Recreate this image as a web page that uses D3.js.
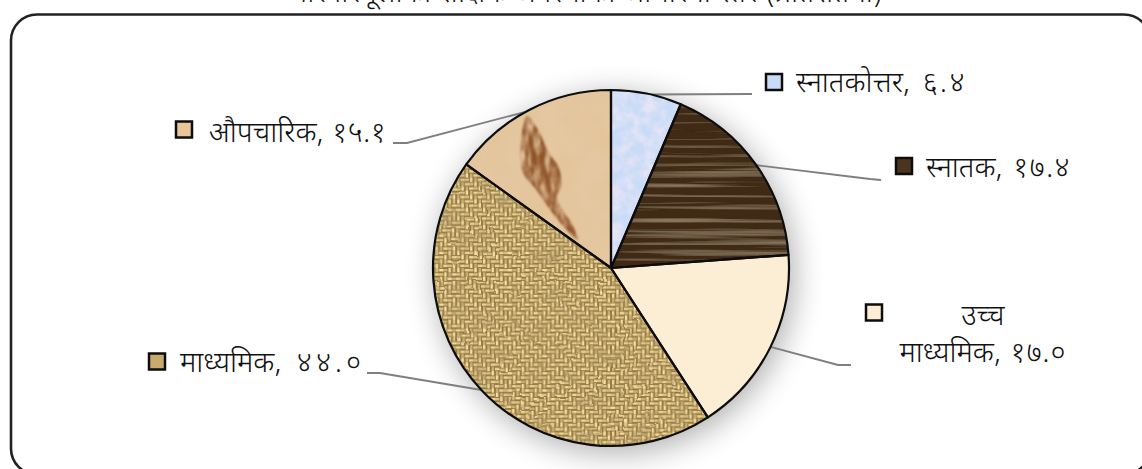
<!DOCTYPE html>
<html><head><meta charset="utf-8">
<style>html,body{margin:0;padding:0;background:#fff;overflow:hidden}
text{font-family:"Noto Sans Devanagari","Lohit Devanagari","Noto Serif Devanagari","Noto Sans","DejaVu Sans",sans-serif;fill:#111;font-weight:300}</style>
<script src="https://cdnjs.cloudflare.com/ajax/libs/d3/7.8.5/d3.min.js"></script></head><body>
<script>
const categories=["स्नातकोत्तर","स्नातक","उच्च माध्यमिक","माध्यमिक","औपचारिक"];
const values=[6.4,17.4,17.0,44.0,15.1];
const valueLabels=["६.४","१७.४","१७.०","४४.०","१५.१"];
const titleText="परिवारमूलीको शैक्षिक अवस्थाको आधारमा स्तर (प्रतिशतमा)";
const W=1142,H=469,cx=611,cy=268,R=178;
const svg=d3.select("body").append("svg").attr("width",W).attr("height",H).style("display","block");
const defs=svg.append("defs");

function tex(id,freq,seed,octaves,matrix){
  const f=defs.append("filter").attr("id",id).attr("x","0").attr("y","0").attr("width","1").attr("height","1");
  f.append("feTurbulence").attr("type","fractalNoise").attr("baseFrequency",freq).attr("numOctaves",octaves).attr("seed",seed).attr("result","n");
  f.append("feColorMatrix").attr("in","n").attr("type","matrix").attr("values",matrix).attr("result","c");
  f.append("feComposite").attr("in","c").attr("in2","SourceAlpha").attr("operator","in").attr("result","t");
  const m=f.append("feMerge");m.append("feMergeNode").attr("in","SourceGraphic");m.append("feMergeNode").attr("in","t");
}
tex("tBlue","0.09",4,3,"0 0 0 0 .85  0 0 0 0 .80  0 0 0 0 .92  1.7 0 0 0 -.6");
tex("tWood","0.004 0.2",7,3,"0 0 0 0 .44  0 0 0 0 .33  0 0 0 0 .20  1.8 0 0 0 -.95");
tex("tCream","0.02",2,2,"0 0 0 0 .93  0 0 0 0 .86  0 0 0 0 .72  .4 0 0 0 -.17");
tex("tSand","0.03",9,3,"0 0 0 0 .80  0 0 0 0 .64  0 0 0 0 .46  .7 0 0 0 -.25");

// woven burlap tile
const cell=4.3,n=12;
const pat=defs.append("pattern").attr("id","weave").attr("patternUnits","userSpaceOnUse").attr("width",cell*n*2).attr("height",cell*n);
pat.append("rect").attr("width",cell*n*2).attr("height",cell*n).attr("fill","#8f743e");
d3.range(n*2).forEach(i=>d3.range(n).forEach(j=>{
  const k=i<n?i:2*n-1-i, horiz=((k+j)%4)<2;
  const shade=["#f3dfa6","#dcc284","#ecd698","#ccb072"][(i*3+j*5)%4];
  pat.append("rect").attr("x",i*cell+(horiz?0:.9)).attr("y",j*cell+(horiz?.9:0))
    .attr("width",horiz?cell:cell-1.8).attr("height",horiz?cell-1.8:cell).attr("fill",shade);
}));
const fw=defs.append("filter").attr("id","tWeave").attr("x","0").attr("y","0").attr("width","1").attr("height","1");
fw.append("feTurbulence").attr("type","fractalNoise").attr("baseFrequency","0.035").attr("numOctaves",2).attr("seed",5).attr("result","w");
fw.append("feDisplacementMap").attr("in","SourceGraphic").attr("in2","w").attr("scale",3).attr("result","dg");
fw.append("feGaussianBlur").attr("in","dg").attr("stdDeviation",.5).attr("result","b");
fw.append("feTurbulence").attr("type","fractalNoise").attr("baseFrequency","0.05").attr("numOctaves",3).attr("seed",11).attr("result","n");
fw.append("feColorMatrix").attr("in","n").attr("type","matrix").attr("values","0 0 0 0 .42  0 0 0 0 .30  0 0 0 0 .12  1.5 0 0 0 -.72").attr("result","c");
const mw=fw.append("feMerge").attr("result","all");mw.append("feMergeNode").attr("in","b");mw.append("feMergeNode").attr("in","c");
fw.append("feComposite").attr("in","all").attr("in2","SourceAlpha").attr("operator","in");

defs.append("filter").attr("id","blur14").attr("x","-30%").attr("y","-30%").attr("width","160%").attr("height","160%")
  .append("feGaussianBlur").attr("stdDeviation",15);
const fishF=defs.append("filter").attr("id","fishBlur").attr("x","-30%").attr("y","-30%").attr("width","160%").attr("height","160%");
fishF.append("feTurbulence").attr("type","fractalNoise").attr("baseFrequency","0.2 0.06").attr("numOctaves",3).attr("seed",3).attr("result","n");
fishF.append("feColorMatrix").attr("in","n").attr("type","matrix").attr("values","0 0 0 0 0  0 0 0 0 0  0 0 0 0 0  2.0 0 0 0 -.3").attr("result","holes");
fishF.append("feComposite").attr("in","SourceGraphic").attr("in2","holes").attr("operator","in").attr("result","streak");
fishF.append("feGaussianBlur").attr("in","streak").attr("stdDeviation",1.2);

const fills=["#c9dcf7","#3f2916","#fbeed4","url(#weave)","#e4c59b"];
const filters=["url(#tBlue)","url(#tWood)","url(#tCream)","url(#tWeave)","url(#tSand)"];
const swatch=["#c9dcf7","#4a3420","#fdeed3","#c8aa6c","#e8c69a"];

// frame
svg.append("rect").attr("x",11).attr("y",14.5).attr("width",1139).attr("height",460).attr("rx",26)
  .attr("fill","#fff").attr("stroke","#222").attr("stroke-width",2.6);
// the title is cut by the top edge in the reference too
svg.append("text").attr("x",587).attr("y",2).attr("text-anchor","middle").attr("font-size",29.5).text(titleText);

const pie=d3.pie().sort(null).value(d=>d)(values);
const arc=d3.arc().innerRadius(0).outerRadius(R);
const g=svg.append("g").attr("transform",`translate(${cx},${cy})`);
g.append("path").attr("d",d3.arc().innerRadius(0).outerRadius(R+2).startAngle(0).endAngle(2*Math.PI)())
  .attr("transform","translate(4,6)").attr("fill","#000").attr("opacity",.3).attr("filter","url(#blur14)");

const elbows=[[141,-174],[259,-89],[227,97],[-231,105],[-204,-125]];
const ends=[[141,-174],[270,-88],[240,97],[-244,105],[-218,-125]];
const rim=d3.arc().innerRadius(R-1).outerRadius(R-1);
const line=d3.line();
g.selectAll("path.leader").data(pie).join("path").attr("class","leader")
  .attr("d",(d,i)=>line([rim.centroid(d),elbows[i],ends[i]]))
  .attr("fill","none").attr("stroke","#7f7f7f").attr("stroke-width",1.9);

g.selectAll("path.slice").data(pie).join("path").attr("class","slice")
  .attr("d",arc).attr("fill",(d,i)=>fills[i]).attr("filter",(d,i)=>filters[i]);

// fossil mark inside the last slice
const clip=defs.append("clipPath").attr("id","lastSlice");clip.append("path").attr("d",arc(pie[4]));
g.append("g").attr("clip-path","url(#lastSlice)").append("path")
  .attr("d",d3.line().curve(d3.curveCatmullRomClosed)([[-84,-152],[-74,-140],[-62,-115],[-52,-100],[-50,-82],[-54,-70],[-38,-42],[-33,-28],[-46,-40],[-62,-60],[-76,-80],[-88,-95],[-90,-125]]))
  .attr("fill","#8f5228").attr("filter","url(#fishBlur)");

g.selectAll("path.edge").data(pie).join("path").attr("class","edge")
  .attr("d",arc).attr("fill","none").attr("stroke","#0d0d0d").attr("stroke-width",2.2).attr("stroke-linejoin","round");

// labels
const swatchPos=[[766,74],[896,158],[866,304.5],[149,353.5],[176,121.5]];
const textPos=[[796,92],[926,177],[983,362],[180,372],[209,142]];
const sw=16;
svg.selectAll("rect.sw").data(swatch).join("rect").attr("class","sw")
  .attr("x",(d,i)=>swatchPos[i][0]).attr("y",(d,i)=>swatchPos[i][1]).attr("width",sw).attr("height",sw)
  .attr("fill",d=>d).attr("stroke","#0d0d0d").attr("stroke-width",2.5);
const fs=29;
function label(x,y,anchor,name,val,ls){
  const t=svg.append("text").attr("x",x).attr("y",y).attr("text-anchor",anchor).attr("font-size",fs);
  t.append("tspan").text(name);
  if(val) t.append("tspan").attr("letter-spacing",ls).text(", "+val);
}
const valueSpacing=[2.5,1.5,1,4,0.5];
categories.forEach((c,i)=>{
  if(i===2){
    const parts=c.split(" ");
    label(983,325,"middle",parts[0]);
    label(983,textPos[i][1],"middle",parts[1],valueLabels[i],valueSpacing[i]);
  } else label(textPos[i][0],textPos[i][1],"start",c,valueLabels[i],valueSpacing[i]);
});
</script></body></html>
